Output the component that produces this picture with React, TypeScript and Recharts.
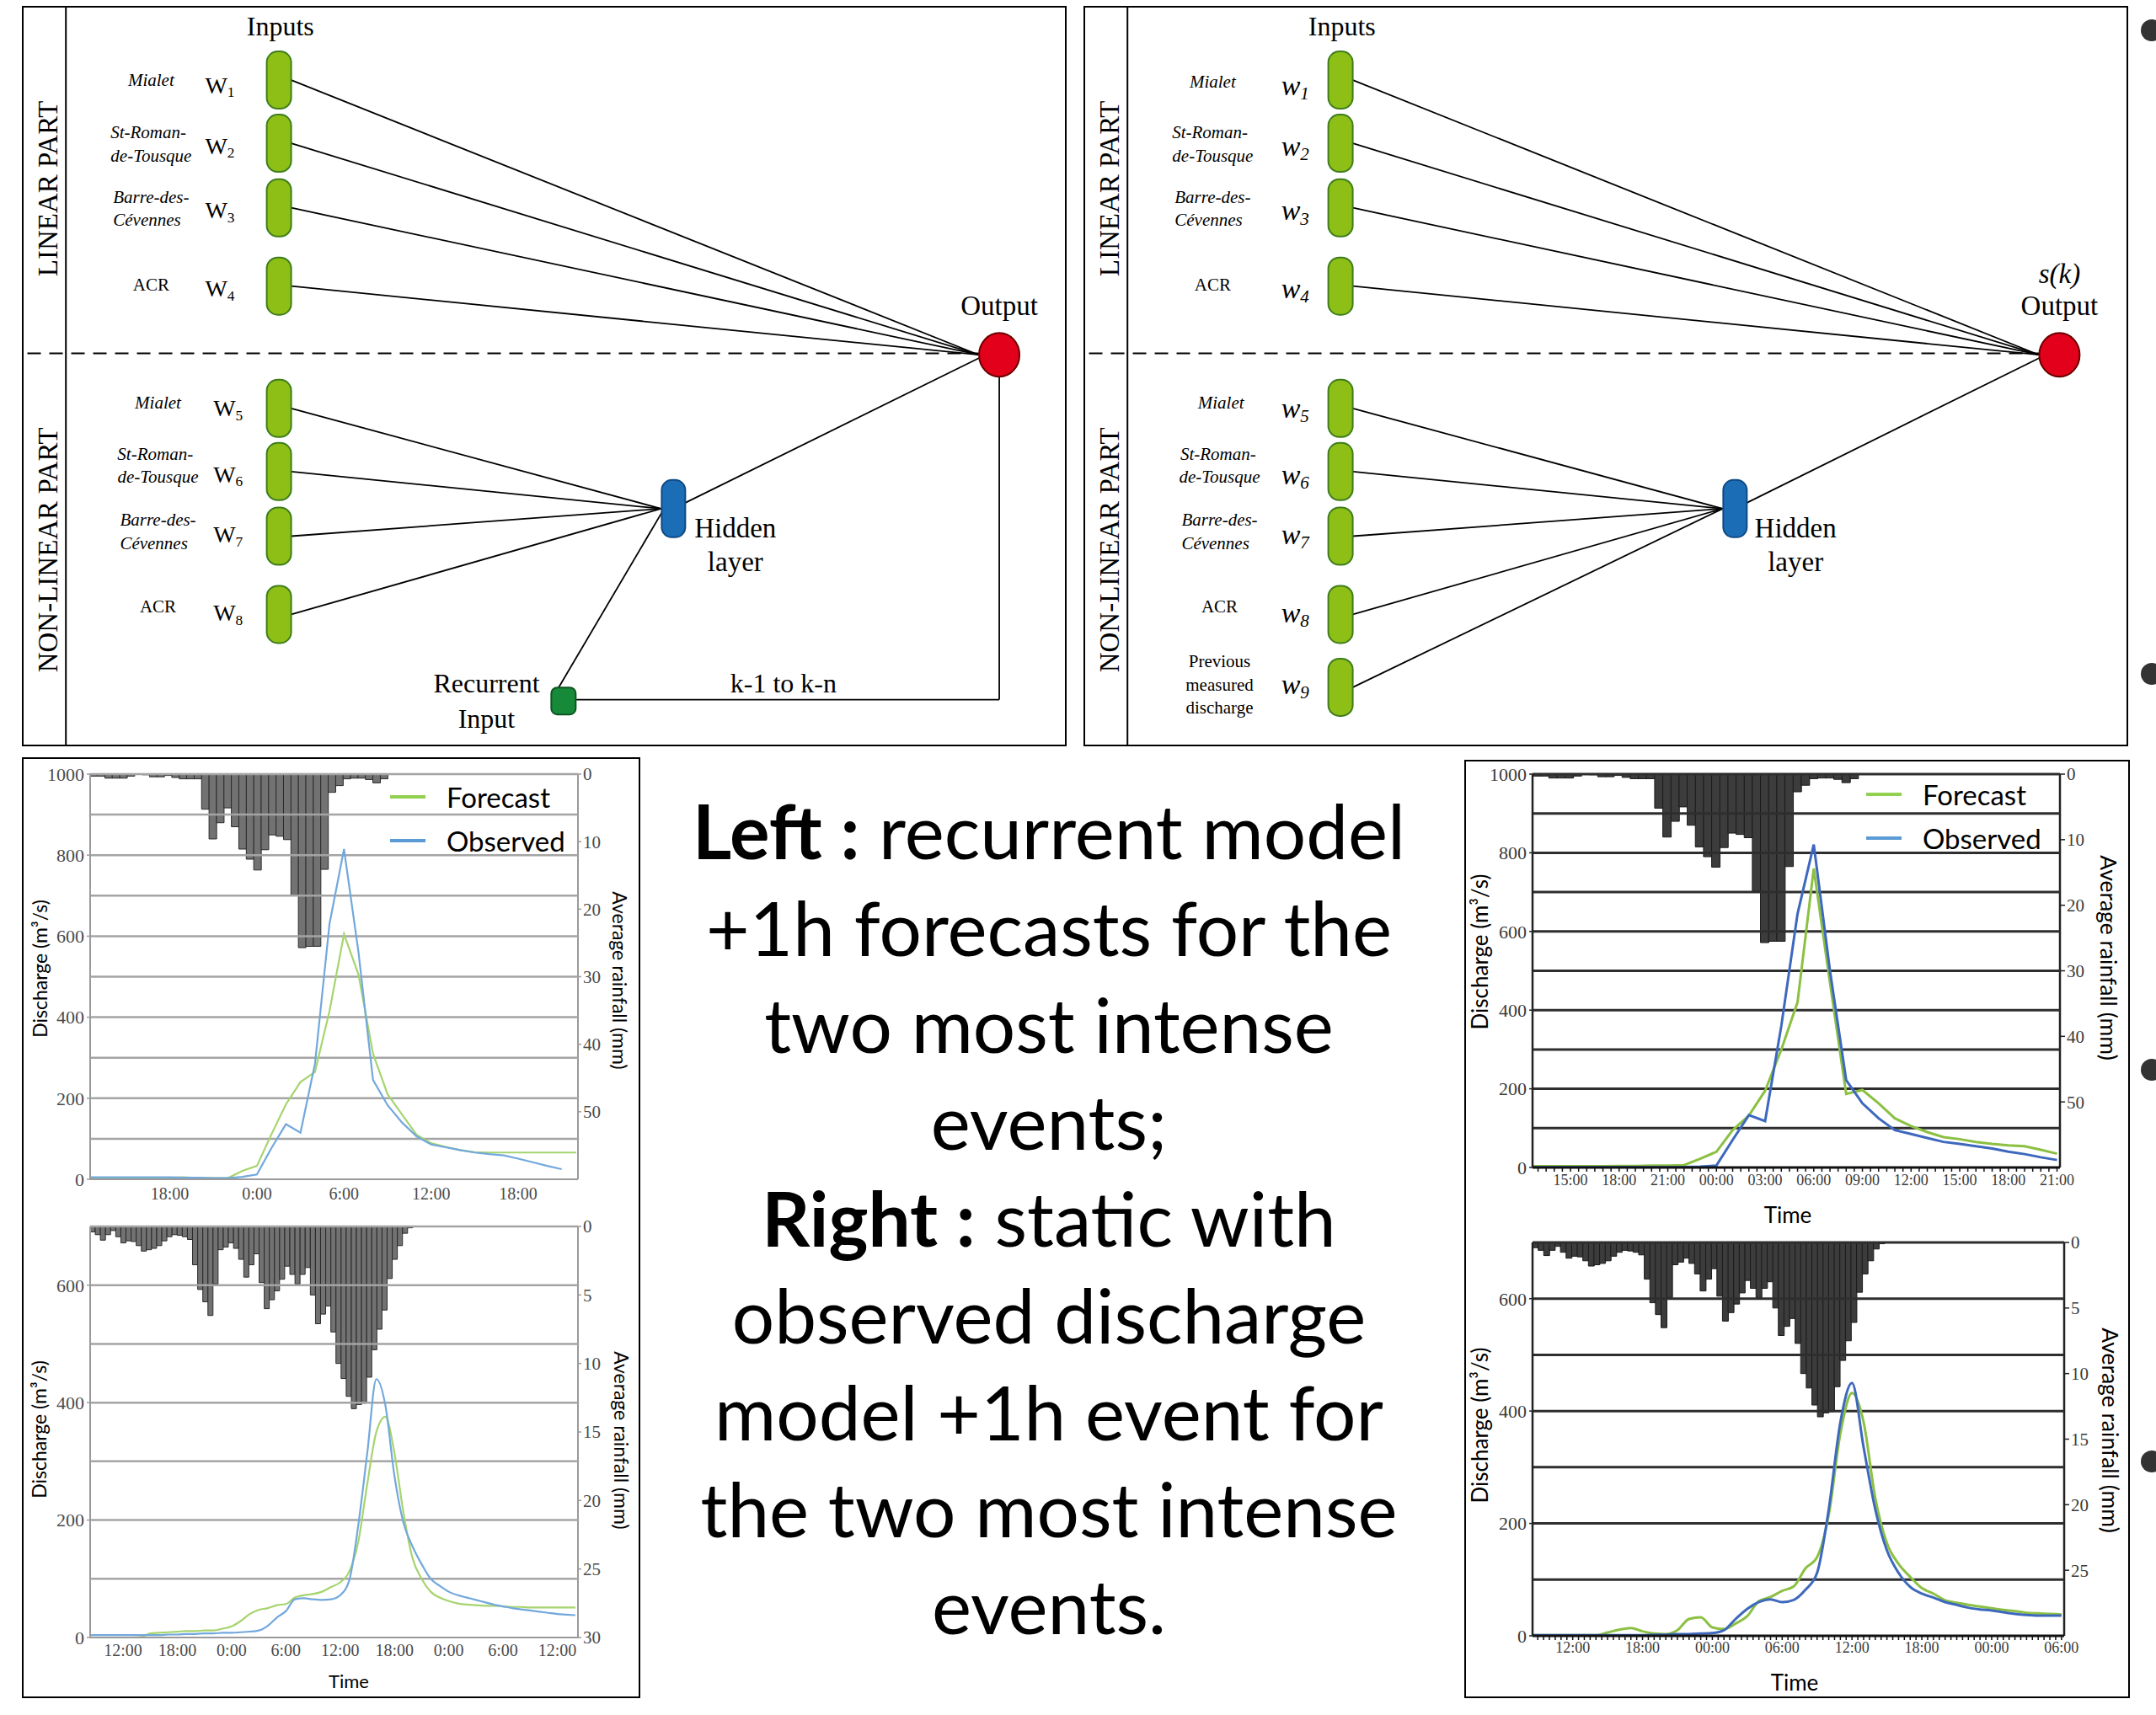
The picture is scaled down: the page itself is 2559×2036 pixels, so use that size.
import React from "react";
import {
  ComposedChart,
  BarChart,
  ScatterChart,
  Bar,
  Line,
  Scatter,
  XAxis,
  YAxis,
  CartesianGrid,
  ReferenceLine,
  Legend,
} from "recharts";

const SERIF = '"Liberation Serif", "Times New Roman", serif';
const SANS = 'Lato, "Open Sans", sans-serif';

const range = (a: number, b: number) => Array.from({ length: b - a + 1 }, (_, i) => a + i);

// ---------- rainfall (mm per bar) ----------
const event1Rain = [
  0.3, 0.3, 0.6, 0.6, 0.6, 0.3, 0, 0.1, 0.4, 0.4, 0.2, 0.5, 0.7, 0.7, 0.7,
  5.2, 9.6, 7.2, 5.0, 7.8, 11.1, 12.6, 14.2, 11.2, 9.0, 9.2, 9.7, 17.9, 25.7, 25.5, 25.5, 14.1,
  2.7, 1.7, 0.7, 0.6, 0.6, 0.8, 1.3, 0.7,
];
const event2Rain = [
  0.4, 0.6, 1.0, 0.6, 0.3, 0.75, 1.2, 1.05, 1.1, 1.4,
  1.8, 1.7, 1.6, 1.4, 1.05, 0.75, 0.6, 0.65, 0.75, 0.95,
  2.8, 4.6, 5.5, 6.5, 4.2, 1.7, 1.5, 1.2, 1.6, 2.4,
  3.7, 2.8, 2.0, 4.1, 6.0, 5.35, 4.7, 3.85, 2.9, 3.5,
  4.2, 3.5, 3.0, 5.0, 7.1, 6.4, 5.8, 7.7, 10.0, 11.1,
  12.4, 13.3, 13.0, 12.9, 11.0, 9.0, 7.5, 6.1, 3.8, 2.4, 1.4, 0.5, 0.1,
];

// ---------- discharge (m3/s), hourly ----------
const c1Hours = range(12, 46);
const c1Observed = [5, 5, 5, 5, 5, 5, 5, 4, 4, 3, 3, 6, 12, 77, 136, 115, 285, 630, 815, 560, 245, 183, 140, 106, 86, 79, 72, 66, 62, 59, 51, 42, 33, 25, null];
const c1Forecast = [2, 2, 2, 2, 2, 3, 4, 5, 3, 3, 3, 21, 33, 111, 185, 240, 265, 415, 605, 505, 310, 210, 160, 110, 89, 80, 72, 67, 66, 66, 66, 66, 66, 66, 66];

const c2Hours = range(8, 62);
const c2Observed = [4, 4, 4, 4, 4, 4, 4, 4, 4, 5, 5, 6, 6, 7, 7, 8, 8, 9, 10, 12, 20, 34, 45, 65, 67, 65, 64, 65, 72, 97, 191, 315, 440, 395, 275, 195, 155, 125, 100, 88, 78, 72, 68, 64, 60, 56, 53, 50, 48, 46, 44, 42, 40, 39, 38];
const c2Forecast = [0, 0, 0, 0, 0, 0, 1, 7, 8, 9, 10, 11, 11, 12, 12, 15, 19, 28, 40, 47, 50, 55, 57, 68, 72, 74, 78, 86, 94, 112, 163, 262, 350, 376, 314, 212, 135, 100, 78, 68, 62, 58, 56, 55, 54, 54, 53, 52, 52, 51, 51, 51, 51, 51, 51];

const c3Hours = range(12, 45);
const c3Observed = [1, 1, 1, 1, 1, 1, 1, 1, 1, 1, 1, 2, 5, 70, 133, 118, 360, 645, 821, 500, 222, 163, 125, 95, 85, 75, 65, 60, 54, 48, 40, 34, 26, 19];
const c3Forecast = [3, 3, 3, 3, 3, 3, 4, 4, 5, 5, 6, 22, 40, 95, 132, 195, 300, 420, 760, 470, 187, 197, 163, 125, 105, 90, 77, 72, 65, 60, 56, 54, 45, 35];

const c4Hours = range(8, 54);
const c4Observed = [1, 1, 1, 1, 1, 1, 1, 1, 1, 1, 1, 2, 2, 3, 3, 4, 5, 10, 30, 48, 60, 65, 60, 64, 82, 112, 225, 380, 450, 335, 225, 152, 112, 87, 75, 68, 60, 55, 50, 47, 45, 42, 39, 37, 36, 36, 36];
const c4Forecast = [1, 1, 1, 1, 1, 1, 1, 6, 11, 14, 8, 4, 3, 10, 30, 33, 15, 12, 22, 35, 62, 69, 80, 88, 120, 140, 215, 360, 432, 380, 245, 165, 128, 105, 85, 75, 63, 59, 55, 52, 49, 46, 44, 41, 40, 39, 38];

// tick labels (hours from the first midnight)
const c1Labels = [18, 24, 30, 36, 42];
const c2Labels = [12, 18, 24, 30, 36, 42, 48, 54, 60];
const c3Labels = [15, 18, 21, 24, 27, 30, 33, 36, 39, 42, 45];
const c4Labels = [12, 18, 24, 30, 36, 42, 48, 54];
const q1000Ticks = [0, 200, 400, 600, 800, 1000];
const q700Ticks = [0, 200, 400, 600];
const rain60Ticks = [0, 10, 20, 30, 40, 50];
const rain30Ticks = [0, 5, 10, 15, 20, 25, 30];
const rain25Ticks = [0, 5, 10, 15, 20, 25];

type HydroProps = {
  left: number;
  top: number;
  width: number;
  height: number;
  plot: { x: number; y: number; w: number; h: number };
  hours: number[];
  observed: (number | null)[];
  forecast: (number | null)[];
  rain: number[];
  rainStart: number;
  rainStep: number;
  xDomain: [number, number];
  xLabels: number[];
  pad?: boolean;
  qMax: number;
  qTicks: number[];
  rMax: number;
  rTicks: number[];
  dark?: boolean;
  smooth?: boolean;
  legend?: { x: number; y: number };
  tickGap: number;
};

function Hydro(p: HydroProps) {
  const rows = p.hours.map((t, i) => ({ t, obs: p.observed[i], fc: p.forecast[i] }));
  const rainRows = p.rain.map((r, i) => ({ t: p.rainStart + i * p.rainStep, r }));
  const grid = range(1, p.qMax / 100).map((v) => v * 100);
  const wL = 70;
  const wR = 50;
  const hX = 40;
  const plotRight = p.width - p.plot.x - p.plot.w;
  const plotBottom = p.height - p.plot.y - p.plot.h;

  const axisColor = p.dark ? "#222" : "#9a9a9a";
  const tickColor = p.dark ? "#3a3a3a" : "#4a4a4a";
  const gridColor = p.dark ? "#2e2e2e" : "#a4a4a4";
  const green = p.dark ? "#8cc043" : "#a6d46e";
  const blue = p.dark ? "#3d68bd" : "#72a8dc";
  const lw = p.dark ? 3 : 2.2;

  let xTicks = p.xLabels;
  if (p.dark) {
    xTicks = [];
    for (let t = Math.ceil(p.xDomain[0] * 2) / 2; t <= p.xDomain[1]; t += 0.5) xTicks.push(t);
  }
  const fmt = (t: number) => {
    if (!p.xLabels.some((l) => Math.abs(l - t) < 1e-6)) return "";
    const h = Math.round(t) % 24;
    return p.pad ? `${String(h).padStart(2, "0")}:00` : `${h}:00`;
  };

  const legendColors = ["#92d050", "#5b9bd5"];

  return (
    <div style={{ position: "absolute", left: p.left, top: p.top, width: p.width, height: p.height }}>
      <div style={{ position: "absolute", left: 0, top: 0 }}>
        <BarChart
          width={p.width}
          height={p.height}
          data={rainRows}
          barCategoryGap={0}
          barGap={0}
          margin={{ top: p.plot.y, left: p.plot.x, right: plotRight - wR, bottom: plotBottom }}
        >
          <XAxis type="number" dataKey="t" domain={p.xDomain} allowDataOverflow hide />
          <YAxis
            orientation="right"
            type="number"
            domain={[0, p.rMax]}
            reversed
            allowDataOverflow
            ticks={p.rTicks}
            interval={0}
            width={wR}
            axisLine={{ stroke: axisColor, strokeWidth: p.dark ? 2.5 : 2 }}
            tickLine={{ stroke: axisColor, strokeWidth: 1.5 }}
            tickSize={p.dark ? 6 : 4}
            tickMargin={2}
            tick={{ fontFamily: SERIF, fontSize: p.dark ? 21 : 21, fill: tickColor }}
          />
          <Bar
            dataKey="r"
            fill={p.dark ? "#3c3c3c" : "#727272"}
            stroke={p.dark ? "#1a1a1a" : "#2a2a2a"}
            strokeWidth={1}
            isAnimationActive={false}
          />
        </BarChart>
      </div>
      <div style={{ position: "absolute", left: 0, top: 0 }}>
        <ComposedChart
          width={p.width}
          height={p.height}
          data={rows}
          margin={{ top: p.plot.y, left: p.plot.x - wL, right: plotRight, bottom: plotBottom - hX }}
        >
          <CartesianGrid
            vertical={false}
            horizontalValues={grid}
            stroke={gridColor}
            strokeWidth={p.dark ? 3 : 2.5}
          />
          <XAxis
            type="number"
            dataKey="t"
            domain={p.xDomain}
            allowDataOverflow
            ticks={xTicks}
            interval={0}
            tickFormatter={fmt}
            height={hX}
            axisLine={{ stroke: p.dark ? "#111" : axisColor, strokeWidth: p.dark ? 3 : 2 }}
            tickLine={p.dark ? { stroke: "#111", strokeWidth: 1.5 } : false}
            tickSize={p.dark ? 5 : 4}
            tickMargin={p.tickGap}
            tick={{ fontFamily: SERIF, fontSize: p.dark ? 18 : 20, fill: tickColor }}
          />
          <YAxis
            type="number"
            domain={[0, p.qMax]}
            allowDataOverflow
            ticks={p.qTicks}
            interval={0}
            width={wL}
            axisLine={{ stroke: axisColor, strokeWidth: p.dark ? 2.5 : 2 }}
            tickLine={{ stroke: axisColor, strokeWidth: 1.5 }}
            tickSize={4}
            tickMargin={3}
            tick={{ fontFamily: SERIF, fontSize: 22, fill: tickColor }}
          />
          <Line
            dataKey="fc"
            name="Forecast"
            type={p.smooth ? "monotone" : "linear"}
            stroke={green}
            strokeWidth={lw}
            dot={false}
            activeDot={false}
            isAnimationActive={false}
          />
          <Line
            dataKey="obs"
            name="Observed"
            type={p.smooth ? "monotone" : "linear"}
            stroke={blue}
            strokeWidth={lw}
            dot={false}
            activeDot={false}
            isAnimationActive={false}
          />
          {p.legend && (
            <Legend
              layout="vertical"
              align="center"
              verticalAlign="middle"
              wrapperStyle={{ left: p.legend.x, top: p.legend.y - 26, width: "auto", height: "auto" }}
              content={(props: any) => (
                <div>
                  {(props.payload || []).map((e: any, i: number) => (
                    <div key={i} style={{ display: "flex", alignItems: "center", height: 52 }}>
                      <div style={{ width: 42, height: 4, background: legendColors[i], marginRight: 25 }} />
                      <span style={{ fontFamily: SANS, fontSize: 33, color: "#000", lineHeight: 1 }}>
                        {e.value}
                      </span>
                    </div>
                  ))}
                </div>
              )}
            />
          )}
        </ComposedChart>
      </div>
    </div>
  );
}

// ---------- network diagrams (box-relative units) ----------
const inputsLeft = [54, 100, 147, 204, 293, 339, 386, 443].map((y) => ({ x: 187, y }));
const inputsRight = [54, 100, 147, 204, 293, 339, 386, 443, 496].map((y) => ({ x: 187, y }));

const edgesLeft: number[][] = [
  [196, 54, 696, 254],
  [196, 100, 696, 254],
  [196, 147, 696, 254],
  [196, 204, 696, 254],
  [196, 293, 465, 366],
  [196, 339, 465, 366],
  [196, 386, 465, 366],
  [196, 443, 465, 366],
  [482, 362, 697, 256],
  [390, 497, 466, 368],
  [711, 268, 711, 505],
  [711, 505, 403, 505],
  [32, 0, 32, 539],
];
const edgesRight: number[][] = [
  [196, 54, 695, 254],
  [196, 100, 695, 254],
  [196, 147, 695, 254],
  [196, 204, 695, 254],
  [196, 293, 465, 366],
  [196, 339, 465, 366],
  [196, 386, 465, 366],
  [196, 443, 465, 366],
  [196, 496, 465, 366],
  [482, 362, 696, 256],
  [32, 0, 32, 539],
];

type Lab = { x: number; y: number; text: string; size: number; it?: boolean; rot?: number; sub?: string };

const stationLabels = (dx: number, italicW: boolean): Lab[] => [];

const labelsLeft: Lab[] = [
  { x: 188, y: 15, text: "Inputs", size: 32 },
  { x: 19, y: 133, text: "LINEAR PART", size: 33, rot: -90 },
  { x: 19, y: 396, text: "NON-LINEAR PART", size: 33, rot: -90 },
  { x: 711, y: 218, text: "Output", size: 33 },
  { x: 519, y: 380, text: "Hidden", size: 33 },
  { x: 519, y: 405, text: "layer", size: 33 },
  { x: 338, y: 493, text: "Recurrent", size: 32 },
  { x: 338, y: 519, text: "Input", size: 32 },
  { x: 554, y: 493, text: "k-1 to k-n", size: 32 },
  { x: 94, y: 54, text: "Mialet", size: 21, it: true },
  { x: 92, y: 92, text: "St-Roman-", size: 21, it: true },
  { x: 94, y: 109, text: "de-Tousque", size: 21, it: true },
  { x: 94, y: 139, text: "Barre-des-", size: 21, it: true },
  { x: 91, y: 156, text: "Cévennes", size: 21, it: true },
  { x: 94, y: 203, text: "ACR", size: 21 },
  { x: 99, y: 289, text: "Mialet", size: 21, it: true },
  { x: 97, y: 326, text: "St-Roman-", size: 21, it: true },
  { x: 99, y: 343, text: "de-Tousque", size: 21, it: true },
  { x: 99, y: 374, text: "Barre-des-", size: 21, it: true },
  { x: 96, y: 391, text: "Cévennes", size: 21, it: true },
  { x: 99, y: 437, text: "ACR", size: 21 },
  { x: 144, y: 58, text: "W", sub: "1", size: 28 },
  { x: 144, y: 102, text: "W", sub: "2", size: 28 },
  { x: 144, y: 149, text: "W", sub: "3", size: 28 },
  { x: 144, y: 206, text: "W", sub: "4", size: 28 },
  { x: 150, y: 293, text: "W", sub: "5", size: 28 },
  { x: 150, y: 341, text: "W", sub: "6", size: 28 },
  { x: 150, y: 385, text: "W", sub: "7", size: 28 },
  { x: 150, y: 442, text: "W", sub: "8", size: 28 },
];

const labelsRight: Lab[] = [
  { x: 188, y: 15, text: "Inputs", size: 32 },
  { x: 19, y: 133, text: "LINEAR PART", size: 33, rot: -90 },
  { x: 19, y: 396, text: "NON-LINEAR PART", size: 33, rot: -90 },
  { x: 710, y: 195, text: "s(k)", size: 33, it: true },
  { x: 710, y: 218, text: "Output", size: 33 },
  { x: 518, y: 380, text: "Hidden", size: 33 },
  { x: 518, y: 405, text: "layer", size: 33 },
  { x: 94, y: 55, text: "Mialet", size: 21, it: true },
  { x: 92, y: 92, text: "St-Roman-", size: 21, it: true },
  { x: 94, y: 109, text: "de-Tousque", size: 21, it: true },
  { x: 94, y: 139, text: "Barre-des-", size: 21, it: true },
  { x: 91, y: 156, text: "Cévennes", size: 21, it: true },
  { x: 94, y: 203, text: "ACR", size: 21 },
  { x: 100, y: 289, text: "Mialet", size: 21, it: true },
  { x: 98, y: 326, text: "St-Roman-", size: 21, it: true },
  { x: 99, y: 343, text: "de-Tousque", size: 21, it: true },
  { x: 99, y: 374, text: "Barre-des-", size: 21, it: true },
  { x: 96, y: 391, text: "Cévennes", size: 21, it: true },
  { x: 99, y: 437, text: "ACR", size: 21 },
  { x: 99, y: 477, text: "Previous", size: 21 },
  { x: 99, y: 494, text: "measured", size: 21 },
  { x: 99, y: 511, text: "discharge", size: 21 },
  { x: 154, y: 58, text: "w", sub: "1", size: 34, it: true },
  { x: 154, y: 102, text: "w", sub: "2", size: 34, it: true },
  { x: 154, y: 149, text: "w", sub: "3", size: 34, it: true },
  { x: 154, y: 206, text: "w", sub: "4", size: 34, it: true },
  { x: 154, y: 293, text: "w", sub: "5", size: 34, it: true },
  { x: 154, y: 341, text: "w", sub: "6", size: 34, it: true },
  { x: 154, y: 385, text: "w", sub: "7", size: 34, it: true },
  { x: 154, y: 442, text: "w", sub: "8", size: 34, it: true },
  { x: 154, y: 494, text: "w", sub: "9", size: 34, it: true },
];

const InputNode = (props: any) => (
  <rect x={props.cx - 14.5} y={props.cy - 34} width={29} height={68} rx={13} fill="#8dbf17" stroke="#3f7d1c" strokeWidth={2} />
);
const HiddenNode = (props: any) => (
  <rect x={props.cx - 14} y={props.cy - 34} width={28} height={68} rx={12} fill="#1b6db6" stroke="#0f4a84" strokeWidth={2} />
);
const OutputNode = (props: any) => (
  <ellipse cx={props.cx} cy={props.cy} rx={24} ry={26} fill="#e2001a" stroke="#6a0000" strokeWidth={2} />
);
const RecurrentNode = (props: any) => (
  <rect x={props.cx - 14.5} y={props.cy - 16} width={29} height={32} rx={7} fill="#178a3a" stroke="#0d5522" strokeWidth={2} />
);
const LabelShape = (props: any) => {
  const d: Lab = props.payload;
  const { cx, cy } = props;
  return (
    <text
      x={cx}
      y={cy}
      textAnchor="middle"
      dominantBaseline="central"
      fontFamily={SERIF}
      fontSize={d.size}
      fontStyle={d.it ? "italic" : "normal"}
      fill="#000"
      transform={d.rot ? `rotate(${d.rot} ${cx} ${cy})` : undefined}
    >
      {d.text}
      {d.sub && (
        <tspan dy={d.size * 0.28} fontSize={d.size * 0.62}>
          {d.sub}
        </tspan>
      )}
    </text>
  );
};

function Diagram(props: {
  left: number;
  inputs: { x: number; y: number }[];
  edges: number[][];
  labels: Lab[];
  output: { x: number; y: number };
  hidden: { x: number; y: number };
  recurrent?: { x: number; y: number };
}) {
  const W = 1240;
  const H = 879;
  return (
    <div style={{ position: "absolute", left: props.left, top: 7, width: W, height: H }}>
      <ScatterChart width={W} height={H} margin={{ top: 0, right: 0, bottom: 0, left: 0 }}>
        <XAxis type="number" dataKey="x" domain={[0, 760]} allowDataOverflow hide />
        <YAxis type="number" dataKey="y" domain={[0, 539]} reversed allowDataOverflow hide />
        {props.edges.map((e, i) => (
          <ReferenceLine
            key={i}
            segment={[
              { x: e[0], y: e[1] },
              { x: e[2], y: e[3] },
            ]}
            stroke="#000"
            strokeWidth={i === props.edges.length - 1 ? 2 : 1.8}
            ifOverflow="visible"
          />
        ))}
        <ReferenceLine
          segment={[
            { x: 4, y: 253 },
            { x: props.output.x - 15, y: 253 },
          ]}
          stroke="#000"
          strokeWidth={2}
          strokeDasharray="16 10"
          ifOverflow="visible"
        />
        <Scatter data={props.inputs} shape={InputNode} isAnimationActive={false} />
        <Scatter data={[props.hidden]} shape={HiddenNode} isAnimationActive={false} />
        <Scatter data={[props.output]} shape={OutputNode} isAnimationActive={false} />
        {props.recurrent && <Scatter data={[props.recurrent]} shape={RecurrentNode} isAnimationActive={false} />}
        <Scatter data={props.labels} shape={LabelShape} isAnimationActive={false} />
      </ScatterChart>
      <div style={{ position: "absolute", left: 0, top: 0, width: W, height: H, border: "2.5px solid #000", boxSizing: "border-box", pointerEvents: "none" }} />
    </div>
  );
}

function Txt(props: { x: number; y: number; size: number; rot?: number; children: React.ReactNode }) {
  return (
    <div
      style={{
        position: "absolute",
        left: props.x,
        top: props.y,
        transform: `translate(-50%, -50%) rotate(${props.rot || 0}deg)`,
        fontFamily: SANS,
        fontSize: props.size,
        lineHeight: 1,
        whiteSpace: "nowrap",
        color: "#000",
      }}
    >
      {props.children}
    </div>
  );
}

export default function App() {
  return (
    <div style={{ position: "absolute", left: 0, top: 0, width: 2559, height: 2036, background: "#fff", overflow: "hidden" }}>
      <Diagram
        left={26}
        inputs={inputsLeft}
        edges={edgesLeft}
        labels={labelsLeft}
        output={{ x: 711, y: 254 }}
        hidden={{ x: 474, y: 366 }}
        recurrent={{ x: 394, y: 506 }}
      />
      <Diagram
        left={1286}
        inputs={inputsRight}
        edges={edgesRight}
        labels={labelsRight}
        output={{ x: 710, y: 254 }}
        hidden={{ x: 474, y: 366 }}
      />

      {/* bullets cut off at the slide edge */}
      {[36, 800, 1270, 1735].map((y) => (
        <div key={y} style={{ position: "absolute", left: 2541, top: y - 13, width: 26, height: 26, borderRadius: 13, background: "#333" }} />
      ))}

      {/* left hydrographs */}
      <div style={{ position: "absolute", left: 26, top: 899, width: 734, height: 1117, border: "2.5px solid #000", boxSizing: "border-box" }} />
      <Hydro
        left={26}
        top={899}
        width={734}
        height={545}
        plot={{ x: 81, y: 20, w: 579, h: 481 }}
        hours={c1Hours}
        observed={c1Observed}
        forecast={c1Forecast}
        rain={event1Rain}
        rainStart={12.75}
        rainStep={0.513}
        xDomain={[12.51, 46.12]}
        xLabels={c1Labels}
        qMax={1000}
        qTicks={q1000Ticks}
        rMax={60}
        rTicks={rain60Ticks}
        legend={{ x: 437, y: 47 }}
        tickGap={6}
      />
      <Hydro
        left={26}
        top={1444}
        width={734}
        height={572}
        plot={{ x: 81, y: 12, w: 579, h: 488 }}
        hours={c2Hours}
        observed={c2Observed}
        forecast={c2Forecast}
        rain={event2Rain}
        rainStart={8.65}
        rainStep={0.566}
        xDomain={[8.37, 62.28]}
        xLabels={c2Labels}
        qMax={700}
        qTicks={q700Ticks}
        rMax={30}
        rTicks={rain30Ticks}
        smooth
        tickGap={4}
      />
      <Txt x={47} y={1150} size={23} rot={-90}>Discharge (m³/s)</Txt>
      <Txt x={735} y={1164} size={23} rot={90}>Average rainfall (mm)</Txt>
      <Txt x={46} y={1697} size={23} rot={-90}>Discharge (m³/s)</Txt>
      <Txt x={737} y={1710} size={23} rot={90}>Average rainfall (mm)</Txt>
      <Txt x={414} y={1996} size={22}>Time</Txt>

      {/* right hydrographs */}
      <div style={{ position: "absolute", left: 1738, top: 902, width: 790, height: 1114, border: "2.5px solid #000", boxSizing: "border-box" }} />
      <Hydro
        left={1738}
        top={902}
        width={790}
        height={560}
        plot={{ x: 81, y: 17, w: 626, h: 467 }}
        hours={c3Hours}
        observed={c3Observed}
        forecast={c3Forecast}
        rain={event1Rain}
        rainStart={12.91}
        rainStep={0.502}
        xDomain={[12.66, 45.18]}
        xLabels={c3Labels}
        pad
        qMax={1000}
        qTicks={q1000Ticks}
        rMax={60}
        rTicks={rain60Ticks}
        dark
        legend={{ x: 477, y: 41 }}
        tickGap={3}
      />
      <Hydro
        left={1738}
        top={1462}
        width={790}
        height={554}
        plot={{ x: 81, y: 13, w: 631, h: 467 }}
        hours={c4Hours}
        observed={c4Observed}
        forecast={c4Forecast}
        rain={event2Rain}
        rainStart={8.79}
        rainStep={0.48}
        xDomain={[8.55, 54.23]}
        xLabels={c4Labels}
        pad
        qMax={700}
        qTicks={q700Ticks}
        rMax={30}
        rTicks={rain25Ticks}
        dark
        smooth
        tickGap={2}
      />
      <Txt x={1756} y={1130} size={26} rot={-90}>Discharge (m³/s)</Txt>
      <Txt x={2503} y={1137} size={26.5} rot={90}>Average rainfall (mm)</Txt>
      <Txt x={2122} y={1442} size={26}>Time</Txt>
      <Txt x={1756} y={1692} size={26} rot={-90}>Discharge (m³/s)</Txt>
      <Txt x={2505} y={1698} size={26.5} rot={90}>Average rainfall (mm)</Txt>
      <Txt x={2130} y={1997} size={26}>Time</Txt>

      {/* centre caption */}
      <div
        style={{
          position: "absolute",
          left: 745,
          top: 928,
          width: 1000,
          textAlign: "center",
          fontFamily: SANS,
          fontSize: 89,
          lineHeight: "115px",
          color: "#000",
        }}
      >
        <b>Left :</b> recurrent model
        <br />
        +1h forecasts for the
        <br />
        two most intense
        <br />
        events;
        <br />
        <b>Right :</b> static with
        <br />
        observed discharge
        <br />
        model +1h event for
        <br />
        the two most intense
        <br />
        events.
      </div>
    </div>
  );
}
